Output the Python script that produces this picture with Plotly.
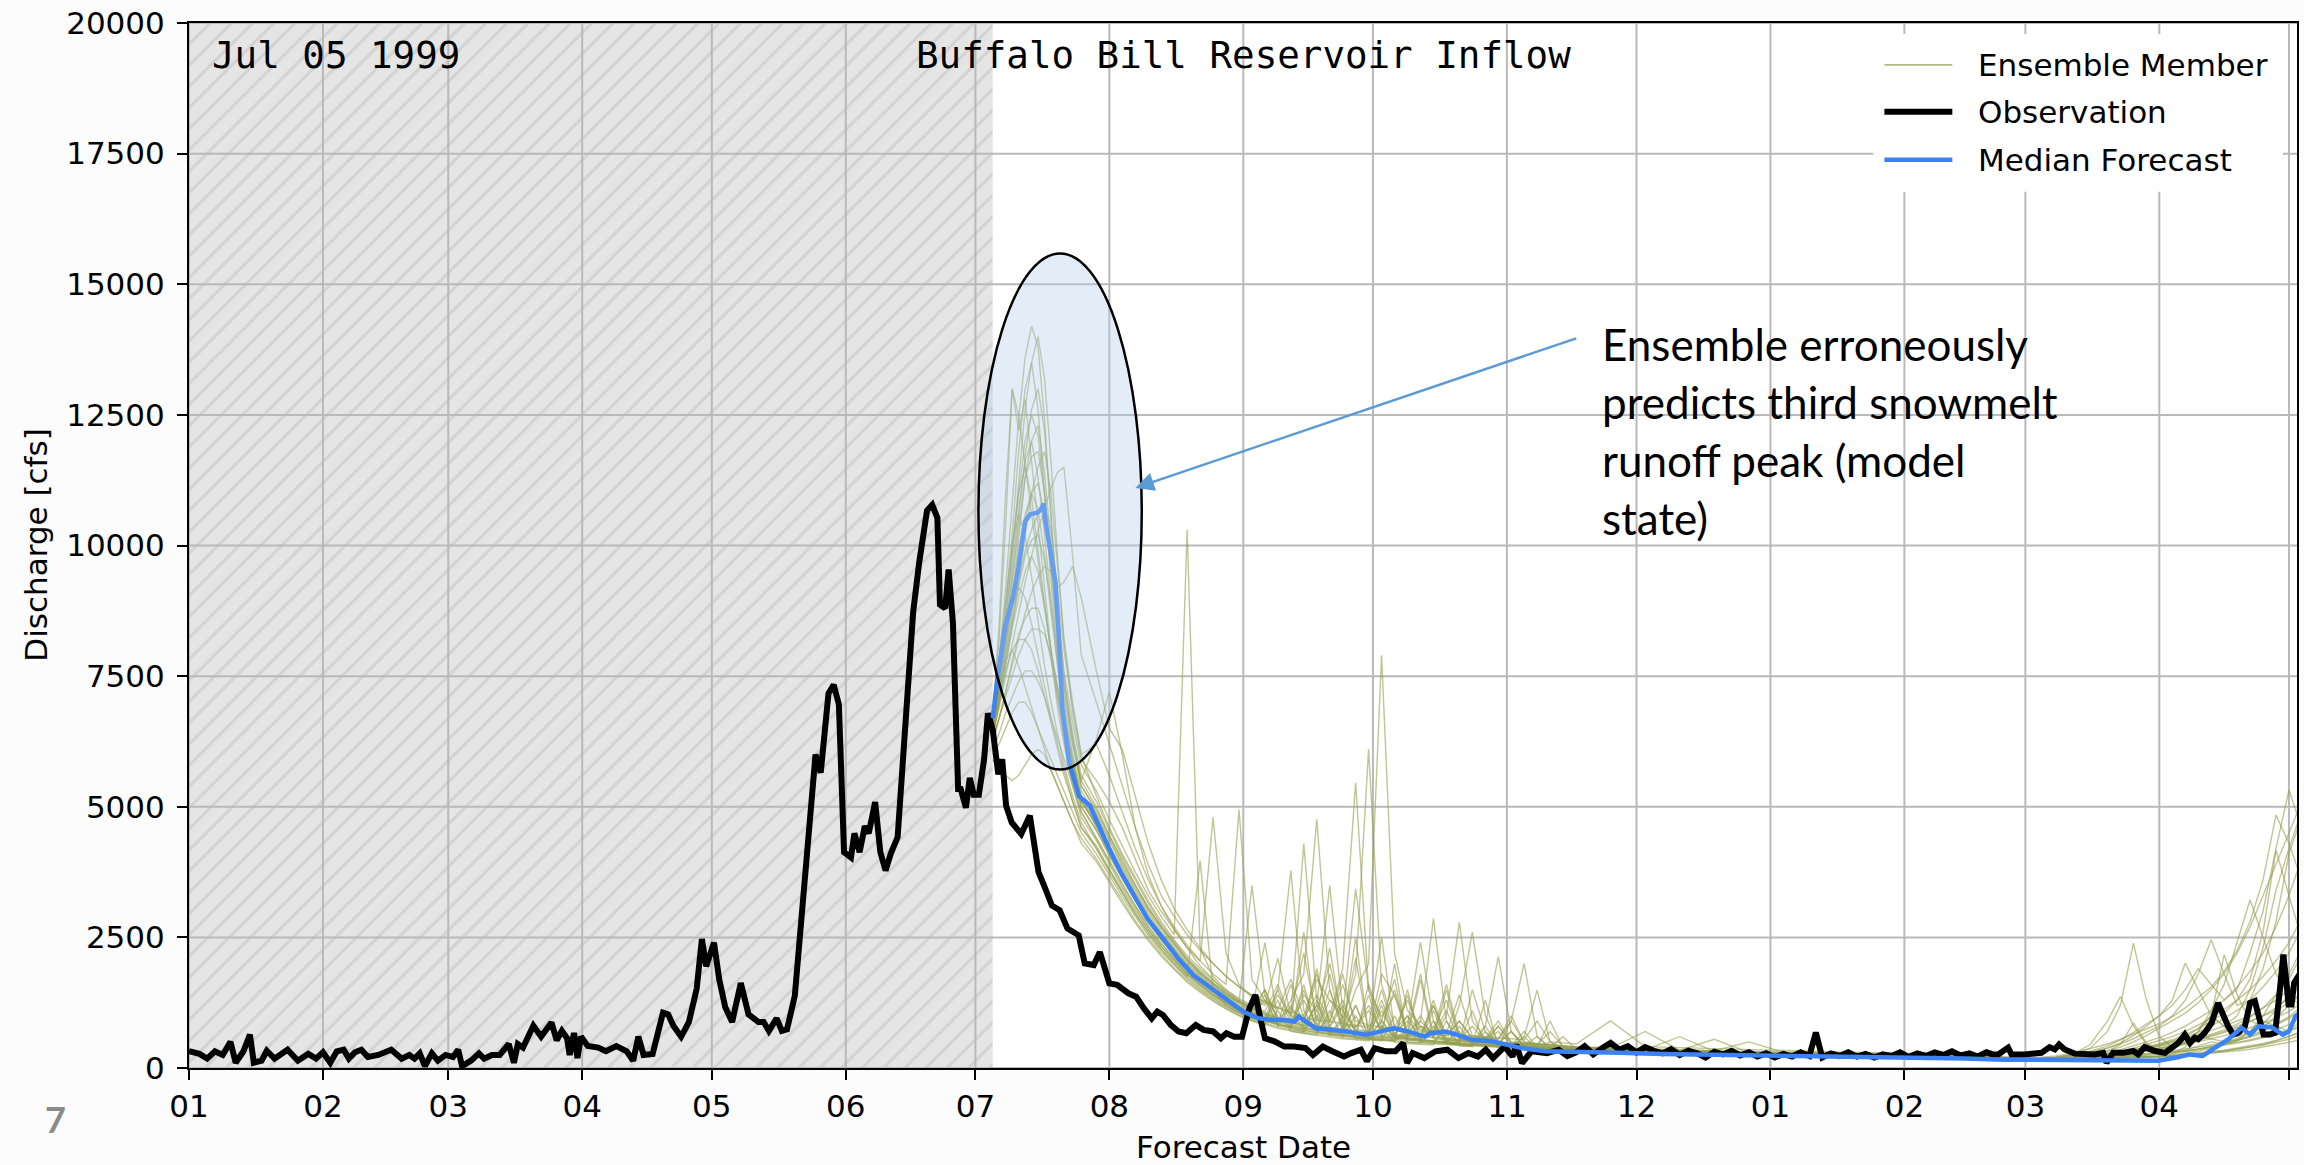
import pandas as pd
import plotly.graph_objects as go

# Plot calendar: day 0 = 1 January of a leap dummy year, so every
# water-year date has a slot on the shared month axis.
DAY0 = pd.Timestamp("2000-01-01")


def dates(days):
    return [(DAY0 + pd.Timedelta(days=float(d))).strftime("%Y-%m-%d %H:%M:%S") for d in days]


# ---------------------------------------------------------------- data
month_starts = ["2000-01-01", "2000-02-01", "2000-03-01", "2000-04-01", "2000-05-01",
                "2000-06-01", "2000-07-01", "2000-08-01", "2000-09-01", "2000-10-01",
                "2000-11-01", "2000-12-01", "2001-01-01", "2001-02-01", "2001-03-01",
                "2001-04-01", "2001-05-01"]
month_labels = ["01", "02", "03", "04", "05", "06", "07", "08", "09", "10",
                "11", "12", "01", "02", "03", "04", ""]
discharge_ticks = [0, 2500, 5000, 7500, 10000, 12500, 15000, 17500, 20000]

forecast_start_day = 186.0      # Jul 05
axis_end_day = 487.86

# observed inflow (day of plot year, cfs)
obs_day = [
    0.0, 2.4, 4.2, 6.0, 7.8, 9.6, 10.8, 12.6, 14.1, 15.0,
    16.8, 18.0, 19.8, 21.6, 22.8, 25.2, 27.6, 29.4, 31.0, 32.7,
    34.2, 35.8, 37.0, 38.4, 39.9, 41.4, 43.8, 46.8, 49.2, 51.0,
    52.2, 53.4, 54.6, 56.2, 57.6, 59.4, 61.1, 62.3, 63.2, 65.3,
    67.1, 68.3, 70.1, 71.9, 74.0, 75.2, 76.1, 77.3, 79.7, 81.5,
    83.9, 85.1, 86.3, 87.5, 88.1, 89.1, 89.9, 90.7, 92.3, 94.7,
    96.5, 98.9, 101.3, 102.8, 104.0, 105.2, 107.3, 109.7, 110.9, 112.1,
    113.9, 115.7, 117.5, 118.7, 119.7, 121.5, 122.7, 124.1, 125.7, 127.7,
    129.5, 131.8, 133.0, 134.2, 136.0, 137.2, 138.4, 140.2, 142.0, 143.8,
    145.0, 146.2, 148.0, 149.2, 150.4, 151.6, 153.2, 154.0, 155.2, 156.4,
    157.3, 158.8, 160.0, 161.2, 162.4, 164.0, 165.4, 167.6, 169.0, 170.8,
    172.0, 173.2, 173.8, 175.0, 175.8, 176.8, 178.0, 178.6, 179.8, 180.7,
    181.6, 182.8, 184.0, 184.9, 186.0, 187.3, 188.2, 189.1, 190.4, 192.6,
    194.6, 196.6, 197.9, 199.7, 201.5, 203.3, 205.9, 207.3, 209.4, 210.8,
    213.0, 214.8, 217.4, 219.2, 221.0, 222.8, 224.1, 225.4, 227.2, 229.0,
    230.8, 233.0, 234.8, 237.0, 238.8, 240.1, 241.9, 243.7, 245.4, 246.8,
    248.1, 249.0, 251.2, 253.5, 255.7, 258.4, 260.1, 262.4, 264.6, 267.3,
    269.0, 271.2, 272.6, 274.4, 277.0, 279.2, 281.0, 281.9, 283.2, 285.9,
    288.5, 291.2, 293.8, 296.1, 298.3, 300.1, 301.8, 304.5, 306.3, 307.2,
    308.5, 310.7, 314.3, 317.0, 319.0, 321.0, 323.0, 325.0, 327.0, 329.0,
    331.0, 333.0, 335.0, 337.0, 339.0, 341.0, 343.0, 345.0, 347.0, 349.0,
    351.0, 353.0, 355.0, 357.0, 359.0, 361.0, 363.0, 365.0, 367.0, 369.0,
    371.0, 373.0, 375.0, 376.5, 378.0, 380.0, 382.0, 384.0, 386.0, 388.0,
    390.0, 392.0, 394.0, 396.0, 398.0, 400.0, 402.0, 404.0, 406.0, 408.0,
    410.0, 412.0, 414.0, 416.0, 417.5, 418.7, 421.0, 421.8, 424.8, 428.7,
    430.6, 431.8, 432.8, 434.1, 436.4, 438.7, 441.1, 443.0, 443.8, 445.3,
    447.6, 450.0, 451.1, 452.6, 455.0, 457.3, 459.2, 460.4, 461.9, 463.1,
    464.2, 465.0, 466.5, 468.1, 469.6, 470.8, 471.9, 473.1, 474.3, 475.8,
    477.0, 478.1, 479.3, 480.1, 481.6, 482.8, 483.9, 484.7, 485.5, 485.9,
    486.6, 487.2, 488.5,
]
obs_cfs = [
    320, 270, 180, 320, 250, 500, 100, 320, 640, 100,
    140, 330, 180, 280, 350, 140, 270, 180, 300, 100,
    320, 350, 180, 300, 350, 210, 250, 350, 180, 250,
    180, 280, 35, 280, 140, 250, 210, 350, 35, 140,
    280, 180, 250, 250, 460, 100, 460, 390, 810, 600,
    870, 530, 710, 570, 250, 670, 190, 600, 420, 390,
    320, 420, 320, 140, 600, 250, 270, 1060, 1025, 810,
    600, 880, 1520, 2470, 1945, 2400, 1700, 1165, 880, 1625,
    1025, 880, 880, 710, 950, 710, 740, 1380, 3070, 4630,
    6000, 5650, 7170, 7335, 6960, 4130, 4030, 4490, 4130, 4630,
    4490, 5090, 4130, 3780, 4100, 4420, 6040, 8730, 9680, 10670,
    10780, 10530, 8870, 8800, 9540, 8520, 5340, 5340, 4980, 5550,
    5230, 5230, 5900, 6790, 6480, 5620, 5910, 5020, 4700, 4480,
    4830, 3750, 3490, 3110, 3020, 2670, 2540, 2000, 1970, 2220,
    1620, 1590, 1430, 1365, 1140, 950, 1080, 1015, 825, 700,
    665, 825, 730, 700, 570, 665, 600, 600, 1140, 1400,
    890, 570, 510, 410, 410, 380, 250, 410, 320, 220,
    285, 350, 130, 380, 320, 320, 475, 95, 285, 190,
    320, 350, 190, 285, 220, 350, 190, 410, 220, 445,
    95, 320, 285, 350, 230, 300, 420, 260, 380, 480,
    350, 420, 300, 400, 330, 280, 360, 250, 330, 280,
    200, 310, 260, 330, 240, 300, 220, 280, 200, 270,
    220, 300, 230, 680, 200, 280, 230, 300, 220, 270,
    200, 260, 230, 300, 210, 280, 230, 300, 250, 320,
    240, 280, 220, 300, 260, 260, 390, 260, 260, 290,
    400, 355, 450, 355, 275, 275, 260, 290, 100, 290,
    290, 325, 260, 400, 325, 290, 390, 480, 640, 480,
    580, 550, 675, 865, 1245, 990, 800, 640, 675, 800,
    1245, 1280, 900, 640, 640, 675, 1500, 2170, 1565, 1215,
    1215, 1630, 1800,
]

# median of the ensemble forecast
median_day = [
    186.0, 187.3, 188.9, 190.8, 192.0, 193.5, 194.7, 196.3, 197.0, 197.8,
    198.2, 199.4, 200.5, 201.3, 202.1, 203.7, 206.0, 208.5, 211.2, 213.0,
    215.6, 218.3, 221.8, 225.4, 228.9, 232.4, 236.0, 239.5, 244.0, 247.5,
    251.0, 253.7, 255.9, 256.8, 258.1, 260.8, 264.3, 267.8, 272.3, 275.8,
    278.9, 282.0, 286.0, 287.3, 290.8, 293.5, 297.0, 301.5, 305.0, 308.5,
    313.9, 321.0, 331.0, 341.0, 351.0, 361.0, 371.0, 381.0, 391.0, 401.0,
    411.0, 420.0, 430.0, 440.0, 450.0, 455.7, 460.0, 463.0, 466.0, 469.0,
    472.0, 475.0, 477.0, 479.0, 482.0, 484.6, 486.0, 487.5, 488.5,
]
median_cfs = [
    6700, 7575, 8450, 9050, 9590, 10460, 10600, 10630, 10670, 10800,
    10460, 9790, 9320, 8250, 6900, 5830, 5200, 5020, 4510, 4190,
    3750, 3370, 2860, 2480, 2100, 1780, 1560, 1330, 1080, 950,
    920, 920, 890, 985, 920, 760, 730, 700, 635, 700,
    760, 700, 600, 665, 700, 635, 540, 510, 445, 380,
    320, 300, 290, 270, 260, 250, 230, 220, 200, 190,
    180, 160, 150, 140, 140, 140, 200, 260, 230, 400,
    550, 770, 640, 800, 780, 640, 700, 990, 1050,
]

# ensemble members on a shared time grid
ens_day = [
    186.0, 187.5, 189.0, 190.5, 192.0, 193.5, 195.0, 196.5, 198.0, 199.5, 201.0, 202.5, 204.5, 206.5,
    210, 213, 216, 219, 222, 225, 228, 231, 234, 237, 240, 243, 246, 249, 252, 255, 258, 261, 264,
    267, 270, 273, 276, 279, 282, 285, 288, 291, 294, 297, 300, 303, 306, 309, 312, 315, 318, 321,
    329, 337, 345, 353, 361, 369, 377, 385, 393, 401, 409, 417,
    420, 424, 428, 432, 436, 440, 444, 447, 450, 453, 456, 459, 462, 465, 468, 471, 474, 477,
    480, 483, 486, 488.5,
]

# snowmelt peak, 5 Jul - 25 Jul
ens_peak = [
    [6600, 7800, 9200, 10800, 12400, 13600, 14200, 13800, 12400, 10500, 8600, 7300, 6200, 5400],
    [6700, 7500, 8600, 9800, 11200, 12600, 13500, 14000, 13200, 11600, 9800, 8200, 6800, 5900],
    [6500, 7600, 8900, 10200, 11800, 13000, 13500, 12600, 11000, 9300, 7900, 6800, 5900, 5100],
    [6800, 8200, 10400, 13000, 12200, 12800, 11600, 10400, 9200, 8000, 7100, 6300, 5500, 4900],
    [6400, 7200, 8100, 9000, 10100, 11300, 12000, 12300, 11400, 10000, 8800, 7600, 6600, 5800],
    [6600, 7400, 8400, 9500, 10700, 11600, 12000, 11300, 10200, 8900, 7700, 6700, 5800, 5100],
    [6500, 7000, 7700, 8500, 9300, 10200, 11000, 11500, 11800, 11000, 9600, 8200, 7000, 6000],
    [6700, 7600, 8800, 10000, 11000, 11500, 10900, 9900, 8800, 7800, 6900, 6200, 5400, 4800],
    [6300, 7000, 7900, 8800, 9700, 10500, 11000, 11200, 10600, 9500, 8400, 7400, 6400, 5600],
    [6600, 7300, 8100, 9000, 9900, 10600, 11000, 10700, 9800, 8700, 7700, 6800, 5900, 5200],
    [6800, 7900, 9000, 10000, 10600, 10200, 9400, 8500, 7700, 7000, 6400, 5800, 5200, 4700],
    [6400, 6900, 7500, 8100, 8700, 9300, 9800, 10300, 10700, 11100, 11400, 11500, 9800, 7900],
    [6500, 7100, 7800, 8500, 9200, 9800, 10100, 10200, 9700, 8900, 8000, 7100, 6200, 5500],
    [6400, 7000, 7700, 8400, 9000, 9500, 9800, 9500, 8800, 8000, 7200, 6500, 5700, 5000],
    [6300, 6700, 7200, 7700, 8200, 8700, 9100, 9400, 9600, 9500, 9200, 9300, 9600, 9000],
    [6600, 7300, 8100, 8800, 9200, 9000, 8500, 7900, 7300, 6700, 6200, 5700, 5100, 4600],
    [6200, 6700, 7200, 7800, 8300, 8600, 8800, 8800, 8400, 7800, 7100, 6400, 5700, 5000],
    [6300, 6700, 7100, 7500, 7900, 8200, 8400, 8400, 8300, 7900, 7300, 6600, 5800, 5100],
    [6500, 7200, 7800, 8000, 7700, 7300, 6900, 6500, 6100, 5700, 5400, 5100, 4700, 4300],
    [6100, 6400, 6800, 7100, 7400, 7600, 7600, 7400, 7100, 6700, 6300, 5900, 5400, 4900],
    [6000, 6200, 6500, 6800, 7000, 7000, 6800, 6500, 6200, 5900, 5600, 5300, 4900, 4500],
    [5900, 5700, 5600, 5500, 5600, 5800, 6000, 6100, 6000, 5700, 5400, 5100, 4700, 4400],
    [6700, 8500, 11000, 13000, 12500, 11500, 10600, 9700, 8800, 8000, 7300, 6600, 5800, 5200],
    [6600, 7400, 8300, 9300, 10400, 11300, 11700, 11800, 11000, 9700, 8400, 7300, 6300, 5500],
    [6600, 7500, 8600, 9800, 11000, 12000, 12500, 12100, 11000, 9600, 8200, 7000, 6000, 5300],
    [6500, 7200, 7900, 8600, 9300, 9900, 10300, 10600, 10800, 10300, 9200, 8000, 6900, 6000],
    [6400, 7000, 7600, 8000, 8200, 8200, 8000, 7600, 7100, 6600, 6100, 5600, 5100, 4600],
    [6500, 7300, 8200, 9300, 10500, 11700, 12600, 13000, 12200, 10600, 8900, 7500, 6300, 5400],
]

# recession with rain events, 28 Jul - 16 Nov
ens_recession = [
    [4950, 4450, 3950, 3500, 3050, 2700, 2350, 2050, 1800, 1600, 1400, 1250, 1120, 1500, 930, 1150, 880, 1700, 1300,
     980, 3430, 1500, 980, 1400, 700, 900, 650, 1100, 560, 800, 520, 700, 450, 430, 600, 380, 360, 340],
    [5500, 5100, 4600, 4000, 3400, 3000, 2650, 2300, 2050, 4800, 2200, 1600, 1350, 1200, 2100, 1000, 940, 1400, 880,
     1800, 780, 1100, 740, 1500, 680, 650, 1200, 620, 900, 560, 540, 800, 490, 470, 450, 700, 410, 390],
    [4700, 4200, 3700, 3250, 2850, 2500, 2200, 1900, 1680, 1480, 1300, 1150, 1030, 930, 1400, 1000, 4290, 1300, 800,
     1300, 660, 620, 900, 1700, 560, 540, 520, 700, 480, 1100, 440, 420, 400, 600, 370, 350, 340, 330],
    [4400, 3950, 3500, 3100, 2700, 2380, 2100, 1800, 1600, 1400, 1240, 1100, 980, 1300, 820, 760, 1400, 1100, 680,
     640, 610, 1600, 900, 600, 1000, 520, 500, 480, 800, 440, 420, 400, 390, 370, 360, 500, 340, 330],
    [5300, 4750, 4250, 3750, 3300, 2900, 2550, 10300, 2300, 1750, 1500, 1330, 1200, 1080, 1600, 920, 860, 1900, 780,
     1200, 740, 700, 1300, 650, 900, 620, 590, 1500, 540, 520, 500, 480, 700, 440, 420, 400, 390, 380],
    [4650, 4200, 3750, 3300, 2900, 2550, 2250, 1950, 1720, 1500, 1320, 1170, 1050, 950, 870, 1600, 760, 720, 1500,
     700, 1200, 620, 600, 580, 560, 900, 2860, 900, 560, 500, 800, 430, 410, 390, 370, 350, 340, 330],
    [6200, 5600, 4900, 4200, 3600, 3100, 2700, 2350, 2050, 1800, 1600, 4950, 1700, 1300, 1150, 1050, 2200, 920, 880,
     1600, 900, 820, 780, 760, 1300, 740, 700, 1600, 640, 620, 580, 560, 900, 500, 470, 450, 430, 410],
    [4350, 3900, 3450, 3050, 2650, 2330, 2050, 1780, 1570, 1380, 1220, 1080, 970, 880, 1300, 750, 700, 1000, 640,
     610, 590, 570, 900, 560, 1400, 520, 800, 500, 1200, 2600, 1000, 480, 420, 400, 380, 360, 350, 340],
    [5100, 4550, 4050, 3600, 3150, 2750, 2420, 2100, 1850, 1630, 1430, 1270, 1130, 1030, 950, 880, 1300, 820, 780,
     740, 1500, 2000, 7900, 2200, 1100, 800, 700, 1300, 620, 600, 560, 900, 500, 480, 460, 440, 420, 400],
    [4750, 4250, 3800, 3350, 2950, 2600, 2280, 1980, 1750, 1540, 1350, 1200, 1080, 970, 1500, 830, 780, 740, 1300,
     1100, 680, 650, 1800, 1400, 620, 600, 580, 1000, 2790, 900, 560, 500, 460, 430, 410, 390, 600, 360],
    [4200, 3800, 3350, 2950, 2600, 2280, 2000, 1750, 3970, 1500, 1200, 1060, 950, 860, 790, 1200, 690, 650, 620,
     1000, 570, 550, 530, 510, 700, 490, 470, 450, 430, 420, 600, 380, 370, 350, 340, 330, 320, 310],
    [7000, 6200, 5400, 4600, 3900, 3300, 2900, 2550, 2250, 2000, 1750, 1550, 1380, 1250, 1130, 1700, 970, 910, 2300,
     820, 780, 1200, 740, 720, 690, 1800, 640, 620, 900, 580, 560, 540, 1000, 490, 460, 440, 420, 400],
    [5000, 4450, 4000, 3500, 3080, 2700, 2380, 2050, 1820, 1600, 1400, 1250, 3490, 1400, 960, 880, 820, 1200, 760,
     720, 2100, 660, 1500, 640, 620, 1000, 580, 560, 540, 520, 500, 800, 470, 450, 430, 410, 400, 390],
    [4550, 4050, 3620, 3200, 2800, 2450, 2150, 1870, 1650, 1450, 1280, 1130, 1010, 910, 840, 780, 1600, 690, 650,
     900, 1800, 6100, 1600, 800, 620, 580, 1300, 540, 520, 500, 480, 460, 700, 420, 400, 380, 370, 360],
    [7600, 6500, 6100, 5200, 4300, 3600, 3050, 2650, 2300, 2000, 1760, 1560, 1400, 1270, 1160, 1070, 1000, 1800, 890,
     850, 810, 780, 2500, 730, 1000, 700, 680, 660, 1400, 620, 600, 580, 560, 540, 900, 500, 480, 460],
    [4200, 3750, 3350, 2950, 2580, 2270, 2000, 1740, 1540, 1350, 1190, 1060, 950, 1400, 790, 730, 690, 1300, 620,
     590, 1000, 560, 540, 520, 800, 2410, 900, 480, 460, 440, 700, 400, 390, 380, 360, 350, 340, 330],
    [4550, 4080, 3640, 3200, 2800, 2460, 2160, 1870, 1650, 1460, 1280, 1130, 1020, 920, 840, 1300, 1800, 4760, 1500,
     800, 640, 1400, 590, 570, 550, 530, 510, 490, 700, 470, 450, 430, 410, 400, 380, 370, 360, 350],
    [4650, 4180, 3720, 3270, 2870, 2520, 2210, 1920, 1700, 1490, 1310, 1160, 1040, 940, 860, 800, 750, 1100, 2000,
     900, 640, 610, 1200, 580, 560, 540, 520, 500, 480, 1500, 700, 440, 420, 400, 390, 380, 370, 360],
    [3950, 3550, 3150, 2780, 2440, 2140, 1880, 1640, 1450, 1280, 1130, 1000, 900, 820, 1100, 700, 660, 620, 590,
     560, 540, 520, 800, 490, 470, 450, 440, 900, 420, 410, 800, 2130, 700, 400, 380, 360, 350, 340],
    [4400, 3950, 3530, 3110, 2730, 2390, 2100, 1830, 1620, 1420, 1250, 1110, 990, 900, 830, 770, 720, 680, 1000,
     1900, 5460, 1500, 800, 600, 570, 540, 520, 500, 480, 460, 440, 420, 410, 390, 380, 370, 360, 350],
    [4100, 3680, 3280, 2900, 2540, 2230, 1960, 1710, 1510, 1330, 1170, 1040, 930, 850, 1500, 3780, 1100, 700, 640,
     610, 580, 560, 540, 520, 500, 480, 700, 460, 440, 420, 410, 400, 380, 370, 360, 350, 340, 330],
    [4000, 3600, 3200, 2820, 2480, 2180, 1910, 1670, 1480, 1300, 1140, 1010, 910, 830, 760, 710, 670, 630, 1100,
     580, 560, 540, 520, 1000, 490, 480, 470, 460, 450, 440, 430, 420, 410, 600, 1490, 500, 380, 360],
    [4600, 4120, 3680, 3240, 2850, 2500, 2190, 1900, 1680, 1480, 1300, 1150, 1030, 1500, 900, 800, 750, 710, 670,
     640, 610, 590, 570, 550, 530, 510, 1100, 490, 470, 450, 440, 430, 900, 2000, 600, 400, 380, 360],
    [6300, 7200, 6000, 4600, 3700, 3100, 2650, 2300, 1950, 1700, 1460, 1280, 1120, 1010, 920, 860, 800, 1200, 3490,
     1100, 720, 680, 650, 630, 610, 800, 590, 570, 550, 530, 510, 490, 470, 450, 430, 420, 410, 400],
    [4850, 4350, 3850, 3400, 3000, 2650, 2300, 2000, 1780, 1560, 1380, 1230, 1100, 2400, 900, 840, 1500, 740, 700,
     660, 1200, 600, 580, 2000, 540, 520, 900, 480, 460, 440, 1300, 410, 400, 380, 370, 360, 350, 340],
    [5200, 4600, 4100, 3650, 3200, 2800, 2450, 2150, 1900, 1680, 1480, 1310, 1170, 1060, 970, 900, 2600, 800, 760,
     720, 690, 660, 1100, 620, 600, 1700, 560, 540, 520, 500, 480, 460, 440, 420, 410, 900, 390, 380],
    [4250, 3800, 3400, 3000, 2650, 2330, 2050, 1800, 1590, 1400, 1240, 1100, 990, 900, 830, 770, 720, 680, 650,
     620, 600, 580, 560, 540, 1500, 510, 490, 470, 450, 440, 430, 420, 410, 400, 390, 380, 370, 360],
    [4900, 4400, 3900, 3450, 3050, 2700, 2380, 2080, 1840, 1630, 1440, 1280, 1150, 1040, 950, 880, 820, 770, 1800,
     690, 2500, 640, 620, 600, 580, 560, 1200, 520, 500, 480, 460, 440, 420, 700, 400, 390, 380, 370],
]

# winter baseflow, 24 Nov - 11 Feb
ens_winter = [
    [330, 310, 300, 290, 280, 270, 260, 250, 240, 230, 220, 210],
    [370, 350, 600, 320, 300, 290, 280, 270, 260, 250, 240, 230],
    [310, 300, 290, 280, 260, 250, 240, 230, 220, 210, 200, 190],
    [310, 290, 280, 270, 260, 250, 240, 230, 220, 210, 200, 190],
    [360, 340, 320, 300, 290, 280, 270, 260, 250, 240, 230, 220],
    [310, 300, 290, 270, 260, 250, 240, 230, 220, 210, 200, 190],
    [390, 370, 350, 330, 500, 300, 290, 280, 270, 260, 250, 240],
    [320, 300, 290, 280, 270, 260, 250, 240, 230, 220, 210, 200],
    [380, 360, 340, 550, 300, 290, 280, 270, 260, 250, 240, 230],
    [340, 320, 310, 290, 280, 270, 260, 250, 240, 230, 220, 210],
    [300, 280, 270, 260, 250, 240, 230, 220, 210, 200, 190, 180],
    [380, 700, 340, 330, 310, 300, 290, 280, 270, 260, 250, 240],
    [370, 350, 330, 310, 300, 290, 280, 270, 260, 250, 240, 230],
    [340, 320, 300, 290, 280, 270, 260, 250, 240, 230, 220, 210],
    [900, 410, 390, 370, 350, 330, 320, 300, 290, 280, 270, 260],
    [310, 290, 280, 270, 260, 250, 240, 230, 220, 210, 200, 190],
    [330, 310, 300, 290, 280, 270, 260, 250, 240, 230, 220, 210],
    [340, 320, 310, 300, 290, 280, 270, 260, 250, 240, 230, 220],
    [320, 300, 290, 280, 260, 250, 240, 230, 220, 210, 200, 190],
    [330, 310, 300, 290, 280, 270, 260, 250, 240, 230, 220, 210],
    [310, 300, 280, 270, 260, 250, 240, 230, 220, 210, 200, 190],
    [330, 310, 300, 280, 270, 260, 250, 240, 230, 220, 210, 200],
    [340, 320, 310, 300, 290, 280, 270, 260, 250, 240, 230, 220],
    [370, 350, 330, 310, 300, 290, 280, 270, 260, 250, 240, 230],
    [350, 330, 310, 300, 290, 280, 270, 260, 250, 240, 230, 220],
    [360, 340, 320, 310, 300, 290, 280, 270, 260, 250, 240, 230],
    [320, 300, 290, 280, 270, 260, 250, 240, 230, 220, 210, 200],
    [340, 320, 300, 290, 280, 270, 260, 250, 240, 230, 220, 210],
]

# spring melt onset, 24 Feb - 2 May
ens_spring = [
    [170, 160, 160, 170, 180, 190, 200, 220, 240, 230, 220, 260, 350, 420, 500, 460, 520, 700, 900, 800, 700, 900],
    [190, 180, 180, 200, 260, 450, 900, 1370, 800, 450, 300, 280, 400, 700, 1000, 800, 600, 700, 1000, 1400, 1800, 2200],
    [160, 150, 150, 160, 170, 180, 190, 200, 210, 220, 230, 250, 280, 320, 380, 450, 520, 600, 700, 820, 950, 1100],
    [160, 150, 150, 150, 160, 170, 180, 190, 200, 200, 210, 220, 240, 260, 290, 320, 360, 400, 450, 520, 600, 680],
    [190, 180, 180, 200, 260, 380, 700, 1200, 2390, 1300, 600, 400, 500, 700, 1100, 1600, 2400, 3220, 2500, 1800, 1400, 1200],
    [160, 150, 150, 160, 170, 180, 190, 210, 230, 250, 270, 290, 320, 360, 400, 440, 480, 520, 580, 640, 700, 780],
    [200, 190, 180, 200, 240, 300, 380, 460, 560, 680, 800, 1000, 1300, 1800, 2455, 1800, 1200, 1300, 1900, 2800, 4100, 4700],
    [170, 160, 160, 170, 190, 220, 260, 300, 340, 380, 420, 460, 520, 600, 560, 500, 560, 680, 850, 1100, 1400, 1700],
    [190, 180, 180, 200, 240, 300, 380, 480, 620, 800, 1000, 1300, 2010, 1500, 1000, 800, 1000, 1500, 2300, 3400, 4200, 4810],
    [170, 160, 160, 170, 190, 220, 260, 300, 350, 400, 460, 520, 600, 750, 1000, 2170, 1400, 900, 800, 950, 1200, 1400],
    [150, 140, 140, 150, 160, 170, 180, 190, 200, 210, 220, 230, 250, 270, 300, 330, 360, 400, 440, 490, 550, 620],
    [200, 190, 180, 200, 250, 320, 420, 540, 680, 840, 1000, 1200, 1500, 1900, 1600, 1300, 1500, 2200, 3000, 4200, 5320, 4700],
    [180, 170, 160, 180, 200, 230, 270, 310, 350, 400, 460, 540, 640, 760, 900, 1050, 1300, 1700, 2600, 4170, 3300, 2600],
    [160, 150, 150, 160, 170, 190, 210, 230, 250, 270, 300, 330, 360, 400, 440, 480, 530, 590, 660, 740, 830, 950],
    [220, 210, 200, 230, 290, 370, 460, 550, 650, 750, 850, 980, 1150, 1350, 1550, 1850, 2250, 2800, 3600, 4840, 4300, 3700],
    [160, 150, 150, 150, 160, 170, 180, 190, 200, 210, 220, 240, 260, 280, 310, 340, 380, 420, 470, 530, 600, 680],
    [170, 160, 160, 170, 190, 220, 260, 300, 340, 380, 430, 490, 560, 640, 720, 800, 900, 1000, 1150, 1300, 1500, 1750],
    [170, 160, 160, 170, 190, 210, 240, 270, 300, 340, 380, 420, 470, 530, 600, 680, 770, 880, 1000, 1150, 1350, 1550],
    [160, 150, 150, 170, 200, 250, 320, 450, 860, 480, 350, 300, 320, 360, 410, 470, 540, 620, 720, 840, 980, 1150],
    [160, 150, 150, 160, 180, 200, 230, 260, 290, 320, 360, 400, 450, 500, 560, 620, 690, 770, 860, 960, 1080, 1220],
    [160, 150, 150, 160, 170, 180, 200, 220, 240, 260, 280, 300, 330, 360, 400, 440, 490, 540, 600, 660, 730, 800],
    [150, 140, 140, 150, 160, 170, 180, 190, 200, 210, 220, 230, 240, 260, 280, 300, 330, 360, 400, 440, 490, 540],
    [170, 160, 160, 170, 190, 210, 240, 270, 300, 340, 380, 430, 490, 560, 640, 730, 840, 970, 1150, 1400, 1700, 2100],
    [180, 170, 170, 180, 200, 240, 290, 350, 420, 500, 580, 680, 800, 950, 1100, 1300, 1550, 1850, 2200, 2700, 3300, 3900],
    [180, 170, 170, 180, 200, 230, 270, 320, 380, 450, 520, 600, 700, 820, 960, 1120, 1300, 1500, 1750, 2050, 2400, 2800],
    [190, 180, 170, 190, 220, 270, 330, 400, 500, 620, 760, 900, 1050, 1250, 1500, 1800, 2200, 2700, 3300, 3900, 4500, 5000],
    [170, 160, 160, 170, 180, 200, 220, 250, 280, 320, 360, 410, 470, 540, 620, 700, 800, 900, 1000, 1100, 1250, 1400],
    [180, 170, 160, 170, 190, 210, 240, 280, 320, 370, 430, 500, 580, 680, 800, 950, 1100, 1300, 1550, 1850, 2200, 2600],
]

callout_lines = ["Ensemble erroneously", "predicts third snowmelt", "runoff peak (model", "state)"]

# ---------------------------------------------------------------- styling
L_PX, R_PX, T_PX, B_PX = 189, 2299, 21, 1068
W_PX, H_PX = 2304, 1165
TICK_FONT = dict(family="DejaVu Sans", size=31, color="black")
MONO_FONT = dict(family="DejaVu Sans Mono", size=37.5, color="black")
ENS_COLOR = "rgba(148,158,78,0.6)"
OBS_COLOR = "black"
MED_COLOR = "#3b82f6"
GRID_COLOR = "#b9b9b9"


def px_x(px):
    return (px - L_PX) / (R_PX - L_PX)


def px_y(py):
    return (B_PX - py) / (B_PX - T_PX)


x_start, x_end = dates([0, axis_end_day])
hatch_end = dates([forecast_start_day])[0]

fig = go.Figure()

# hindcast period: grey hatched band up to the forecast date
fig.add_trace(go.Scatter(
    x=[x_start, x_start, hatch_end, hatch_end, x_start],
    y=[0, 20000, 20000, 0, 0],
    mode="lines", fill="toself", fillcolor="#e5e5e5",
    fillpattern=dict(shape="/", bgcolor="#e5e5e5", fgcolor="#bfbfbf", size=15, solidity=0.2),
    line=dict(width=0), hoverinfo="skip", showlegend=False,
))

# grid drawn as a trace so it sits above the hatched band
gx, gy = [], []
for m in month_starts:
    gx += [m, m, None]
    gy += [0, 20000, None]
for v in discharge_ticks:
    gx += [x_start, x_end, None]
    gy += [v, v, None]
fig.add_trace(go.Scatter(x=gx, y=gy, mode="lines", line=dict(color=GRID_COLOR, width=2),
                         hoverinfo="skip", showlegend=False))

ens_x = dates(ens_day)
for i in range(len(ens_peak)):
    member = ens_peak[i] + ens_recession[i] + ens_winter[i] + ens_spring[i]
    assert len(member) == len(ens_day), (i, len(member))
    fig.add_trace(go.Scatter(x=ens_x, y=member, mode="lines",
                             line=dict(color=ENS_COLOR, width=1.4),
                             name="Ensemble Member", showlegend=False))

assert len(obs_day) == len(obs_cfs)
fig.add_trace(go.Scatter(x=dates(obs_day), y=obs_cfs, mode="lines",
                         line=dict(color=OBS_COLOR, width=6), name="Observation", showlegend=False))

assert len(median_day) == len(median_cfs)
fig.add_trace(go.Scatter(x=dates(median_day), y=median_cfs, mode="lines",
                         line=dict(color=MED_COLOR, width=4.5), name="Median Forecast", showlegend=False))

axis_common = dict(
    showline=True, linecolor="black", linewidth=2, mirror=True,
    ticks="outside", ticklen=10, tickwidth=2, tickcolor="black",
    showgrid=False, zeroline=False, tickfont=TICK_FONT,
)
fig.update_xaxes(type="date", range=[x_start, x_end], tickmode="array",
                 tickvals=month_starts, ticktext=month_labels, **axis_common)
fig.update_yaxes(range=[0, 20000], tickmode="array", tickvals=discharge_ticks,
                 ticktext=[str(v) for v in discharge_ticks], ticklabelstandoff=6, **axis_common)

shapes = []
# highlighted forecast peak
e0, e1 = dates([182.7, 220.5])
shapes.append(dict(type="circle", xref="x", yref="y", x0=e0, x1=e1, y0=5712, y1=15590,
                   line=dict(color="black", width=2.5), fillcolor="rgba(178,204,236,0.36)",
                   layer="above"))

# legend panel
shapes.append(dict(type="rect", xref="paper", yref="paper",
                   x0=px_x(1875), x1=px_x(2285), y0=px_y(190), y1=px_y(32),
                   fillcolor="white", line=dict(width=0), layer="above"))
legend_rows = [
    ("Ensemble Member", 63, "#b3b886", 1.6),
    ("Observation", 110, OBS_COLOR, 6),
    ("Median Forecast", 158, MED_COLOR, 4.5),
]
annotations = []
for label, ypx, color, width in legend_rows:
    shapes.append(dict(type="line", xref="paper", yref="paper",
                       x0=px_x(1886), x1=px_x(1954), y0=px_y(ypx), y1=px_y(ypx),
                       line=dict(color=color, width=width), layer="above"))
    annotations.append(dict(text=label, xref="paper", yref="paper", x=px_x(1978), y=px_y(ypx),
                            xanchor="left", yanchor="middle", showarrow=False, font=TICK_FONT))

tip_x, tail_x = dates([219.0, 321.4])
annotations += [
    dict(text="Jul 05 1999", xref="paper", yref="paper", x=px_x(210), y=px_y(53),
         xanchor="left", yanchor="middle", showarrow=False, font=MONO_FONT),
    dict(text="Buffalo Bill Reservoir Inflow", xref="paper", yref="paper", x=0.5, y=px_y(53),
         xanchor="center", yanchor="middle", showarrow=False, font=MONO_FONT),
    dict(text="Discharge [cfs]", xref="paper", yref="paper", x=px_x(35), y=0.5, textangle=-90,
         xanchor="center", yanchor="middle", showarrow=False, font=TICK_FONT),
    dict(text="Forecast Date", xref="paper", yref="paper", x=0.5, y=px_y(1147),
         xanchor="center", yanchor="middle", showarrow=False, font=TICK_FONT),
    dict(text="7", xref="paper", yref="paper", x=px_x(55), y=px_y(1119),
         xanchor="center", yanchor="middle", showarrow=False,
         font=dict(family="Lato", size=36, color="#8a8a8a", weight="bold")),
    dict(text="", x=tip_x, y=11102, ax=tail_x, ay=13975, xref="x", yref="y", axref="x", ayref="y",
         showarrow=True, arrowhead=2, arrowsize=1.5, arrowwidth=2.5, arrowcolor="#5b9bd5"),
]
for line_text, ypx in zip(callout_lines, [342.3, 400.3, 458.4, 517.1]):
    annotations.append(dict(text=line_text, xref="paper", yref="paper", x=px_x(1601), y=px_y(ypx),
                            xanchor="left", yanchor="middle", align="left", showarrow=False,
                            font=dict(family="Lato", size=44, color="black")))

fig.update_layout(
    width=W_PX, height=H_PX,
    margin=dict(l=L_PX, r=W_PX - R_PX, t=T_PX, b=H_PX - B_PX, pad=0),
    paper_bgcolor="#fcfcfc", plot_bgcolor="white",
    showlegend=False, shapes=shapes, annotations=annotations,
)

fig.write_html("out.html")
